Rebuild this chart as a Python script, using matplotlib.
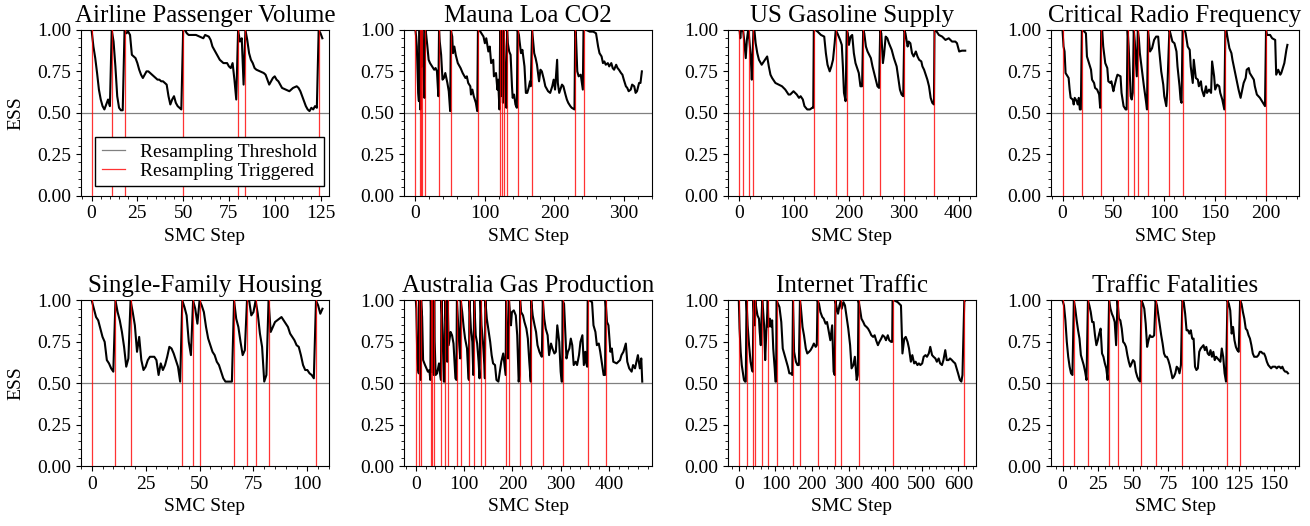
import matplotlib
matplotlib.use("Agg")
import matplotlib.pyplot as plt
from matplotlib.ticker import AutoMinorLocator, FormatStrFormatter, MultipleLocator

plt.rcParams['font.family'] = ['Liberation Serif', 'DejaVu Serif']

titles = ['Airline Passenger Volume', 'Mauna Loa CO2', 'US Gasoline Supply',
          'Critical Radio Frequency', 'Single-Family Housing',
          'Australia Gas Production', 'Internet Traffic', 'Traffic Fatalities']

# (step, ESS)
airline_trace = [
    (0, 1.0), (1, 0.90), (2, 0.83), (3, 0.74), (4, 0.64), (5, 0.58), (6, 0.54), (7, 0.52),
    (8, 0.55), (9, 0.58), (10, 0.54), (11, 1.0), (12, 0.93), (13, 0.78), (14, 0.60),
    (15, 0.53), (16, 0.515), (17, 0.515), (18, 1.0), (19, 0.98), (20, 0.99), (21, 0.97),
    (22, 0.85), (23, 0.84), (24, 0.83), (25, 0.80), (26, 0.76), (27, 0.73), (28, 0.71),
    (29, 0.73), (30, 0.75), (31, 0.75), (32, 0.74), (33, 0.73), (34, 0.72), (35, 0.71),
    (36, 0.70), (37, 0.70), (38, 0.69), (39, 0.69), (40, 0.68), (41, 0.67), (42, 0.60),
    (43, 0.55), (44, 0.58), (45, 0.60), (46, 0.56), (47, 0.54), (48, 0.53), (49, 0.52),
    (50, 1.0), (51, 1.0), (52, 0.98), (53, 0.97), (55, 0.97), (57, 0.97), (59, 0.96),
    (61, 0.95), (62, 0.97), (64, 0.96), (65, 0.94), (66, 0.90), (67, 0.88), (68, 0.86),
    (69, 0.84), (70, 0.82), (72, 0.80), (74, 0.80), (75, 0.78), (76, 0.77), (77, 0.80),
    (78, 0.70), (79, 0.58), (80, 1.0), (81, 0.93), (82, 0.95), (83, 0.67), (84, 1.0),
    (85, 0.94), (86, 0.86), (87, 0.82), (88, 0.80), (89, 0.77), (90, 0.76), (92, 0.75),
    (94, 0.74), (95, 0.73), (96, 0.70), (97, 0.67), (98, 0.69), (99, 0.71), (100, 0.72),
    (101, 0.70), (102, 0.69), (103, 0.67), (104, 0.65), (106, 0.64), (108, 0.63),
    (109, 0.64), (110, 0.65), (112, 0.66), (113, 0.65), (114, 0.63), (115, 0.60),
    (116, 0.57), (117, 0.54), (118, 0.52), (119, 0.51), (120, 0.53), (121, 0.52),
    (122, 0.54), (123, 0.53), (124, 1.0), (125, 0.98), (126, 0.95)]
airline_resample = [0, 11, 18, 50, 80, 84, 124]

maunaloa_trace = [
    (0, 1.0), (1, 0.96), (2, 0.90), (3, 0.76), (4, 0.62), (5, 0.57), (6, 1.0), (7, 0.52),
    (8, 1.0), (9, 0.78), (10, 1.0), (11, 0.88), (12, 0.70), (13, 0.59), (14, 1.0),
    (15, 0.99), (17, 0.91), (19, 0.82), (21, 0.80), (24, 0.78), (27, 0.76), (29, 0.77),
    (31, 0.75), (33, 0.60), (34, 1.0), (35, 0.93), (37, 0.85), (39, 0.70), (41, 0.71),
    (43, 0.74), (46, 0.68), (48, 0.63), (50, 0.51), (51, 1.0), (53, 0.96), (54, 0.86),
    (56, 0.90), (58, 0.85), (61, 0.80), (65, 0.77), (68, 0.74), (72, 0.71), (74, 0.72),
    (76, 0.68), (79, 0.66), (80, 0.61), (82, 0.64), (84, 0.60), (87, 0.56), (89, 0.51),
    (90, 1.0), (92, 1.0), (95, 0.98), (98, 0.96), (100, 0.92), (102, 0.95), (105, 0.87),
    (107, 0.90), (109, 0.80), (112, 0.82), (113, 0.72), (116, 0.74), (118, 0.64),
    (119, 0.70), (121, 0.52), (122, 1.0), (123, 0.60), (124, 1.0), (125, 0.80),
    (126, 0.56), (127, 1.0), (128, 0.90), (129, 0.72), (130, 0.56), (131, 0.53),
    (132, 1.0), (133, 0.92), (135, 0.87), (137, 0.85), (139, 0.66), (140, 0.59),
    (142, 0.61), (144, 0.55), (146, 0.53), (147, 1.0), (149, 0.97), (150, 0.93),
    (152, 0.86), (154, 0.88), (157, 0.78), (159, 0.62), (161, 0.62), (163, 0.65),
    (165, 0.69), (166, 0.66), (168, 1.0), (171, 0.86), (173, 0.83), (175, 0.79),
    (178, 0.69), (180, 0.76), (182, 0.75), (185, 0.70), (187, 0.66), (191, 0.63),
    (194, 0.62), (197, 0.66), (199, 0.70), (201, 0.64), (204, 0.82), (205, 0.68),
    (207, 0.62), (211, 0.67), (213, 0.66), (216, 0.61), (218, 0.58), (220, 0.56),
    (223, 0.54), (225, 0.53), (229, 0.52), (230, 1.0), (231, 0.98), (233, 0.75),
    (235, 0.72), (238, 0.73), (241, 0.64), (242, 1.0), (246, 1.0), (251, 0.99),
    (256, 0.99), (260, 0.98), (263, 0.90), (265, 0.86), (268, 0.84), (270, 0.80),
    (272, 0.81), (274, 0.79), (277, 0.80), (279, 0.78), (282, 0.80), (284, 0.77),
    (286, 0.76), (289, 0.79), (291, 0.77), (293, 0.76), (296, 0.74), (298, 0.73),
    (300, 0.70), (303, 0.66), (305, 0.65), (307, 0.63), (310, 0.64), (312, 0.67),
    (315, 0.66), (317, 0.62), (319, 0.63), (322, 0.68), (324, 0.68), (326, 0.75)]
maunaloa_resample = [0, 6, 8, 10, 14, 34, 51, 90, 122, 124, 127, 132, 147, 168, 230, 242]

gasoline_trace = [
    (0, 1.0), (1, 0.99), (2, 0.95), (3, 0.99), (5, 1.0), (7, 1.0), (9, 0.94), (12, 0.83),
    (14, 0.94), (16, 0.99), (17, 1.0), (19, 0.92), (21, 0.84), (23, 0.70), (25, 0.90),
    (26, 1.0), (28, 0.99), (30, 0.92), (33, 0.86), (36, 0.82), (41, 0.79), (45, 0.81),
    (51, 0.84), (54, 0.78), (57, 0.73), (60, 0.71), (66, 0.68), (72, 0.67), (78, 0.66),
    (84, 0.64), (90, 0.61), (93, 0.61), (99, 0.63), (105, 0.61), (109, 0.59),
    (112, 0.60), (116, 0.58), (119, 0.54), (124, 0.52), (129, 0.52), (133, 0.53),
    (135, 0.53), (136, 1.0), (139, 1.0), (143, 0.99), (149, 0.97), (155, 0.96),
    (158, 0.86), (161, 0.79), (165, 0.75), (168, 0.78), (171, 0.82), (174, 0.92),
    (176, 1.0), (179, 0.98), (184, 0.94), (187, 0.91), (189, 0.78), (191, 0.62),
    (194, 0.57), (196, 1.0), (198, 0.98), (200, 0.91), (203, 0.96), (206, 0.97),
    (209, 0.86), (212, 0.80), (215, 0.77), (218, 0.74), (221, 0.66), (224, 0.66),
    (226, 1.0), (228, 0.98), (231, 0.90), (234, 0.87), (237, 0.85), (240, 0.83),
    (243, 0.78), (246, 0.74), (249, 0.70), (252, 0.66), (255, 0.65), (257, 1.0),
    (259, 0.98), (262, 0.80), (264, 0.85), (267, 0.96), (270, 0.95), (273, 0.92),
    (278, 0.88), (282, 0.83), (287, 0.78), (290, 0.71), (293, 0.64), (296, 0.61),
    (299, 0.60), (301, 1.0), (303, 0.98), (307, 0.90), (309, 0.93), (312, 0.92),
    (315, 0.86), (318, 0.84), (322, 0.87), (325, 0.84), (328, 0.82), (332, 0.81),
    (334, 0.78), (337, 0.76), (340, 0.73), (343, 0.70), (346, 0.66), (349, 0.59),
    (352, 0.56), (355, 0.55), (356, 1.0), (358, 1.0), (364, 0.97), (370, 0.96),
    (376, 0.94), (382, 0.95), (388, 0.93), (394, 0.93), (397, 0.92), (401, 0.87),
    (406, 0.875), (412, 0.875)]
gasoline_resample = [0, 7, 17, 26, 136, 176, 196, 226, 257, 301, 356]

radio_trace = [
    (0, 1.0), (1, 0.90), (2, 0.87), (3, 0.74), (4, 0.73), (6, 0.71), (7, 0.64), (8, 0.59),
    (10, 0.58), (11, 0.55), (12, 0.59), (14, 0.57), (15, 0.55), (16, 0.59), (17, 0.52),
    (18, 0.52), (19, 1.0), (20, 1.0), (23, 0.98), (24, 0.84), (26, 0.80), (28, 0.76),
    (29, 0.70), (31, 0.68), (32, 0.65), (34, 0.64), (36, 0.61), (37, 0.53), (38, 1.0),
    (39, 1.0), (40, 0.90), (42, 0.80), (44, 0.77), (45, 0.69), (47, 0.68), (48, 0.69),
    (50, 0.63), (51, 0.66), (53, 0.71), (54, 0.73), (57, 0.72), (58, 0.62), (60, 0.54),
    (62, 0.52), (63, 0.52), (64, 1.0), (65, 0.90), (66, 0.75), (67, 0.60), (68, 0.58),
    (69, 0.62), (70, 1.0), (71, 0.93), (72, 0.82), (73, 0.72), (74, 1.0), (75, 0.95),
    (76, 0.86), (78, 0.76), (80, 0.66), (82, 0.57), (83, 0.52), (84, 1.0), (85, 0.94),
    (86, 0.87), (88, 0.89), (90, 0.94), (92, 0.96), (94, 0.96), (95, 0.88), (97, 0.75),
    (99, 0.67), (100, 0.60), (102, 0.54), (103, 0.64), (105, 1.0), (106, 0.98),
    (108, 0.93), (110, 0.92), (112, 0.87), (113, 0.78), (115, 0.66), (116, 0.58),
    (117, 0.56), (118, 1.0), (120, 1.0), (121, 0.98), (123, 0.90), (125, 0.88),
    (126, 0.78), (128, 0.68), (129, 0.82), (131, 0.71), (133, 0.70), (134, 0.66),
    (136, 0.69), (137, 0.64), (139, 0.60), (141, 0.66), (142, 0.62), (144, 0.64),
    (146, 0.62), (147, 0.81), (149, 0.72), (150, 0.64), (152, 0.67), (154, 0.66),
    (155, 0.62), (157, 0.58), (159, 0.52), (160, 1.0), (161, 1.0), (162, 0.96),
    (164, 0.89), (166, 0.86), (167, 0.82), (169, 0.76), (171, 0.70), (173, 0.64),
    (175, 0.59), (176, 0.62), (178, 0.68), (180, 0.71), (181, 0.76), (183, 0.77),
    (184, 0.74), (186, 0.72), (188, 0.70), (189, 0.66), (191, 0.61), (194, 0.59),
    (197, 0.56), (199, 0.54), (200, 1.0), (201, 0.97), (204, 0.97), (206, 0.95),
    (209, 0.94), (210, 0.73), (212, 0.76), (214, 0.73), (215, 0.74), (217, 0.78),
    (218, 0.80), (220, 0.88), (221, 0.91)]
radio_resample = [0, 19, 38, 64, 70, 74, 84, 105, 118, 160, 200]

housing_trace = [
    (0, 1.0), (1, 0.95), (2, 0.90), (3, 0.88), (4, 0.83), (5, 0.78), (6, 0.75), (7, 0.64),
    (8, 0.62), (9, 0.59), (10, 0.57), (11, 1.0), (12, 0.93), (13, 0.88), (14, 0.81),
    (15, 0.72), (16, 0.60), (17, 0.65), (18, 1.0), (19, 0.93), (20, 0.85), (21, 0.69),
    (22, 0.78), (23, 0.64), (24, 0.58), (25, 0.60), (26, 0.64), (27, 0.66), (29, 0.66),
    (30, 0.64), (31, 0.55), (32, 0.62), (33, 0.58), (34, 0.61), (35, 0.66), (36, 0.72),
    (37, 0.71), (38, 0.68), (39, 0.64), (40, 0.60), (41, 0.51), (42, 1.0), (43, 0.96),
    (44, 0.91), (45, 0.75), (46, 0.67), (47, 1.0), (48, 0.95), (49, 0.86), (50, 1.0),
    (51, 0.97), (52, 0.93), (53, 0.84), (54, 0.77), (55, 0.73), (56, 0.69), (57, 0.67),
    (58, 0.63), (59, 0.61), (60, 0.57), (61, 0.53), (62, 0.51), (63, 0.51), (64, 0.51),
    (65, 0.51), (66, 1.0), (67, 0.89), (68, 0.84), (69, 0.75), (70, 0.67), (71, 0.70),
    (72, 1.0), (73, 1.0), (74, 0.91), (75, 0.93), (76, 1.0), (77, 0.92), (78, 0.80),
    (79, 0.72), (80, 0.51), (81, 0.55), (82, 1.0), (83, 0.81), (84, 0.84), (85, 0.87),
    (87, 0.89), (88, 0.90), (89, 0.88), (91, 0.84), (92, 0.80), (94, 0.76), (95, 0.73),
    (96, 0.72), (97, 0.67), (98, 0.61), (99, 0.58), (100, 0.58), (101, 0.56),
    (102, 0.55), (103, 0.53), (104, 1.0), (105, 0.97), (106, 0.92), (107, 0.95)]
housing_resample = [0, 11, 18, 42, 47, 50, 66, 72, 76, 82, 104]

gas_trace = [
    (0, 1.0), (1, 0.95), (3, 0.65), (5, 0.58), (6, 0.56), (7, 1.0), (9, 0.75), (10, 0.52),
    (11, 1.0), (13, 0.90), (15, 0.64), (19, 0.61), (22, 0.59), (25, 0.57), (28, 0.58),
    (30, 0.52), (31, 1.0), (32, 0.89), (33, 0.57), (34, 1.0), (36, 0.69), (37, 0.55),
    (38, 1.0), (39, 0.75), (41, 0.55), (44, 0.56), (48, 0.62), (51, 0.54), (52, 0.52),
    (53, 1.0), (56, 0.79), (58, 0.51), (60, 0.51), (61, 1.0), (63, 0.83), (65, 0.63),
    (66, 1.0), (68, 0.73), (72, 0.81), (75, 0.79), (78, 0.74), (82, 0.53), (84, 0.52),
    (85, 1.0), (87, 0.89), (90, 0.73), (92, 0.65), (93, 1.0), (96, 0.93), (99, 0.84),
    (102, 0.77), (106, 0.71), (109, 0.53), (110, 0.52), (111, 1.0), (114, 0.83),
    (117, 0.75), (119, 0.55), (121, 1.0), (124, 0.79), (127, 0.74), (130, 0.63),
    (132, 0.53), (134, 1.0), (136, 0.85), (139, 0.75), (142, 0.61), (143, 0.53),
    (144, 1.0), (147, 0.89), (150, 0.83), (154, 0.75), (157, 0.67), (160, 0.62),
    (164, 0.61), (167, 0.52), (171, 0.51), (174, 0.57), (177, 0.63), (181, 0.68),
    (184, 0.60), (186, 0.55), (187, 1.0), (189, 0.70), (191, 0.65), (193, 1.0),
    (197, 0.85), (199, 0.93), (203, 0.94), (207, 0.91), (210, 0.79), (213, 0.51),
    (215, 0.55), (216, 1.0), (218, 0.93), (222, 0.91), (225, 0.87), (229, 0.83),
    (232, 0.77), (235, 0.63), (238, 0.51), (239, 1.0), (242, 0.91), (246, 0.85),
    (249, 0.81), (252, 0.73), (256, 0.69), (259, 0.67), (261, 0.66), (263, 1.0),
    (266, 0.89), (269, 0.83), (273, 0.79), (276, 0.67), (280, 0.74), (283, 0.71),
    (287, 0.68), (290, 0.69), (293, 0.85), (297, 0.75), (300, 0.57), (302, 0.51),
    (303, 0.51), (304, 1.0), (307, 0.98), (309, 0.85), (312, 0.65), (315, 0.69),
    (318, 0.71), (321, 0.77), (324, 0.73), (327, 0.61), (331, 0.63), (334, 0.61),
    (338, 0.67), (341, 0.75), (345, 0.79), (348, 0.61), (351, 0.69), (353, 0.62),
    (355, 0.60), (356, 1.0), (360, 1.0), (365, 0.99), (368, 0.85), (372, 0.81),
    (375, 0.73), (379, 0.74), (382, 0.69), (385, 0.63), (389, 0.55), (392, 0.55),
    (393, 1.0), (396, 0.87), (399, 0.85), (403, 0.69), (406, 0.71), (409, 0.63),
    (416, 0.62), (423, 0.64), (426, 0.67), (430, 0.69), (435, 0.74), (438, 0.63),
    (442, 0.59), (447, 0.57), (450, 0.61), (454, 0.59), (457, 0.63), (460, 0.67),
    (464, 0.59), (467, 0.65), (469, 0.51)]
gas_resample = [0, 7, 11, 31, 34, 38, 53, 61, 66, 85, 93, 111, 121, 134, 144, 187, 193,
                216, 239, 263, 304, 356, 393]

internet_trace = [
    (0, 1.0), (2, 0.83), (5, 0.69), (8, 0.61), (12, 0.55), (14, 0.52), (17, 0.51),
    (19, 0.51), (21, 1.0), (24, 0.85), (28, 0.73), (32, 0.63), (36, 0.58), (38, 0.57),
    (40, 1.0), (42, 0.90), (44, 0.85), (45, 1.0), (48, 0.95), (51, 0.91), (55, 0.89),
    (57, 0.81), (60, 0.73), (62, 0.89), (64, 1.0), (66, 0.95), (69, 0.85), (72, 0.64),
    (75, 0.81), (77, 0.89), (79, 1.0), (81, 0.84), (85, 0.89), (89, 0.84), (91, 0.88),
    (94, 0.71), (98, 0.59), (100, 0.51), (102, 0.51), (103, 1.0), (107, 0.98),
    (111, 0.96), (116, 0.87), (120, 0.71), (125, 0.67), (129, 0.64), (134, 0.60),
    (138, 0.56), (142, 0.56), (146, 0.55), (148, 1.0), (151, 0.69), (156, 0.63),
    (160, 0.61), (164, 0.61), (167, 1.0), (169, 0.97), (174, 0.84), (178, 0.79),
    (183, 0.71), (187, 0.68), (192, 0.69), (196, 0.70), (201, 0.72), (205, 0.74),
    (210, 0.72), (213, 0.73), (215, 1.0), (219, 0.98), (223, 0.93), (228, 0.90),
    (232, 0.89), (237, 0.86), (241, 0.87), (246, 0.81), (250, 0.76), (255, 0.85),
    (259, 0.57), (262, 0.55), (264, 1.0), (266, 0.97), (271, 0.92), (275, 0.97),
    (279, 1.0), (281, 0.95), (286, 0.99), (290, 0.97), (295, 0.89), (299, 0.83),
    (304, 0.73), (308, 0.59), (313, 0.61), (317, 0.66), (322, 0.52), (325, 0.55),
    (327, 1.0), (331, 0.95), (335, 0.89), (340, 0.87), (344, 0.85), (349, 0.84),
    (353, 0.83), (358, 0.81), (362, 0.79), (367, 0.78), (371, 0.79), (375, 0.76),
    (380, 0.73), (384, 0.75), (389, 0.77), (393, 0.79), (398, 0.78), (402, 0.76),
    (407, 0.79), (411, 0.76), (416, 0.75), (419, 0.75), (420, 1.0), (425, 1.0),
    (434, 0.99), (443, 0.97), (447, 0.68), (452, 0.77), (456, 0.78), (461, 0.75),
    (465, 0.71), (470, 0.63), (474, 0.67), (479, 0.62), (483, 0.63), (488, 0.61),
    (492, 0.62), (496, 0.61), (501, 0.62), (505, 0.66), (510, 0.67), (514, 0.66),
    (519, 0.68), (523, 0.72), (528, 0.67), (532, 0.66), (537, 0.65), (541, 0.63),
    (546, 0.65), (550, 0.62), (555, 0.61), (559, 0.64), (564, 0.70), (568, 0.64),
    (573, 0.64), (577, 0.65), (582, 0.64), (586, 0.63), (591, 0.62), (595, 0.59),
    (599, 0.56), (604, 0.52), (608, 0.51), (611, 0.55), (616, 1.0), (617, 1.0)]
internet_resample = [0, 21, 40, 45, 64, 79, 103, 148, 167, 215, 264, 279, 327, 420, 616]

fatalities_trace = [
    (0, 1.0), (1, 0.97), (2, 0.88), (3, 0.75), (4, 0.66), (5, 0.60), (6, 0.56), (7, 0.55),
    (8, 1.0), (9, 0.95), (10, 0.88), (11, 0.82), (12, 0.77), (13, 0.67), (14, 0.64),
    (15, 0.61), (16, 0.57), (17, 0.52), (18, 1.0), (19, 0.97), (20, 0.93), (21, 0.87),
    (22, 0.87), (23, 0.79), (24, 0.73), (25, 0.76), (26, 0.80), (27, 0.83), (28, 0.68),
    (29, 0.66), (30, 0.62), (31, 0.59), (32, 0.52), (33, 1.0), (34, 0.95), (35, 0.92),
    (36, 0.90), (37, 0.87), (38, 0.73), (39, 1.0), (40, 0.89), (41, 0.88), (42, 0.83),
    (43, 0.75), (44, 0.74), (45, 0.72), (46, 0.67), (47, 0.63), (48, 0.60), (49, 0.62),
    (50, 0.64), (51, 0.63), (52, 0.57), (53, 0.54), (54, 0.52), (55, 0.51), (56, 1.0),
    (57, 0.98), (58, 0.95), (59, 0.86), (60, 0.72), (61, 0.76), (62, 0.79), (63, 0.78),
    (64, 0.78), (65, 0.79), (66, 1.0), (67, 0.97), (68, 0.91), (69, 0.85), (70, 0.79),
    (71, 0.74), (72, 0.68), (73, 0.66), (74, 0.66), (75, 0.64), (76, 0.61), (77, 0.57),
    (78, 0.53), (79, 0.54), (80, 0.56), (81, 0.60), (82, 0.59), (83, 0.56), (84, 0.61),
    (85, 1.0), (86, 0.99), (87, 0.92), (88, 0.82), (89, 0.82), (90, 0.80), (91, 0.82),
    (92, 0.77), (93, 0.77), (94, 0.60), (95, 0.58), (96, 0.59), (97, 0.69), (98, 0.71),
    (99, 0.72), (100, 0.73), (101, 0.70), (102, 0.72), (103, 0.68), (104, 0.67),
    (105, 0.70), (106, 0.66), (107, 0.69), (108, 0.64), (109, 0.66), (110, 0.65),
    (111, 0.64), (112, 0.63), (113, 0.71), (114, 0.66), (115, 0.56), (116, 0.51),
    (117, 1.0), (118, 0.98), (119, 0.94), (120, 0.80), (121, 0.84), (122, 0.76),
    (123, 0.72), (124, 0.70), (125, 0.69), (126, 1.0), (127, 0.98), (128, 0.93),
    (129, 0.89), (130, 0.83), (131, 0.82), (132, 0.79), (133, 0.77), (134, 0.73),
    (135, 0.68), (136, 0.66), (137, 0.66), (138, 0.66), (139, 0.67), (140, 0.69),
    (141, 0.69), (142, 0.68), (143, 0.68), (144, 0.66), (145, 0.63), (146, 0.61),
    (147, 0.60), (148, 0.59), (149, 0.60), (150, 0.60), (151, 0.60), (152, 0.59),
    (153, 0.60), (154, 0.60), (155, 0.59), (156, 0.60), (157, 0.58), (158, 0.57),
    (159, 0.57), (160, 0.56)]
fatalities_resample = [0, 8, 18, 33, 39, 56, 66, 85, 117, 126]

traces = [airline_trace, maunaloa_trace, gasoline_trace, radio_trace,
          housing_trace, gas_trace, internet_trace, fatalities_trace]
resamples = [airline_resample, maunaloa_resample, gasoline_resample, radio_resample,
             housing_resample, gas_resample, internet_resample, fatalities_resample]
xlims = [(-5.8, 129.6), (-16, 341), (-21, 431), (-11.3, 232.4),
         (-5, 110), (-23.9, 489.8), (-30.5, 647), (-8.2, 167.8)]
xtick_steps = [25, 100, 100, 50, 25, 100, 100, 25]

fig, axes = plt.subplots(2, 4, figsize=(13.1, 5.26), dpi=100)
plt.subplots_adjust(left=0.0618, right=0.9916, top=0.943, bottom=0.114,
                    wspace=0.304, hspace=0.634)

for i, ax in enumerate(axes.flat):
    steps, ess = zip(*traces[i])
    ax.axhline(0.5, color='gray', lw=0.9, zorder=1, label='Resampling Threshold')
    ax.plot(steps, ess, color='black', lw=1.5, zorder=2)
    for j, s in enumerate(resamples[i]):
        ax.axvline(s, color='red', lw=0.9, alpha=0.8, zorder=3,
                   label='Resampling Triggered' if j == 0 else None)
    ax.set_xlim(*xlims[i])
    ax.set_ylim(0, 1)
    ax.xaxis.set_major_locator(MultipleLocator(xtick_steps[i]))
    ax.set_yticks([0, 0.25, 0.5, 0.75, 1.0])
    ax.yaxis.set_major_formatter(FormatStrFormatter('%.2f'))
    ax.xaxis.set_minor_locator(AutoMinorLocator())
    ax.yaxis.set_minor_locator(AutoMinorLocator())
    ax.tick_params(labelsize=14)
    ax.set_title(titles[i], fontsize=18)
    ax.set_xlabel('SMC Step', fontsize=14)
    if i % 4 == 0:
        ax.set_ylabel('ESS', fontsize=14, labelpad=9)

leg = axes[0, 0].legend(loc='lower right', bbox_to_anchor=(0.98, 0.055),
                        borderaxespad=0, fontsize=14, handlelength=1.15,
                        labelspacing=0.05, borderpad=0.35, fancybox=False,
                        framealpha=1, edgecolor='black')
leg.get_frame().set_linewidth(1.0)

plt.savefig('out.png', dpi=100)
